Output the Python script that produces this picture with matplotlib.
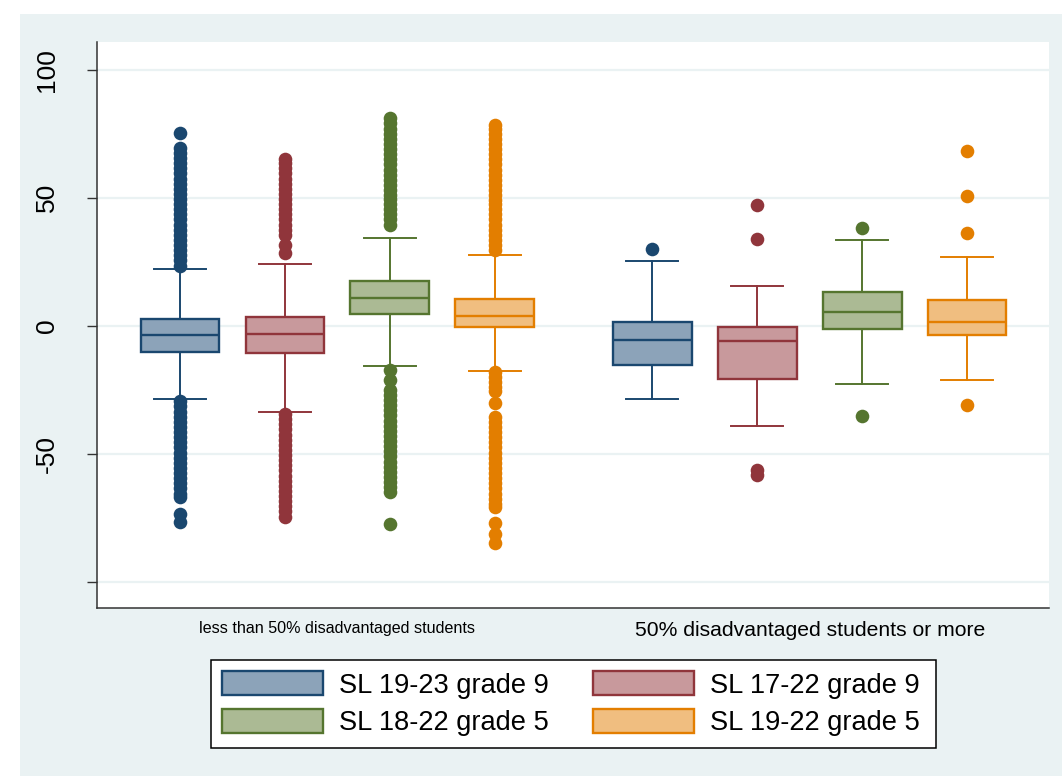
import matplotlib
matplotlib.use("Agg")
import matplotlib.pyplot as plt
from matplotlib.patches import Patch, Rectangle

plt.rcParams['font.family'] = ['Liberation Sans', 'DejaVu Sans']

# ---- data -------------------------------------------------------------
series = ["SL 19-23 grade 9", "SL 17-22 grade 9", "SL 18-22 grade 5", "SL 19-22 grade 5"]
groups = ["less than 50% disadvantaged students", "50% disadvantaged students or more"]

# group 1: less than 50% disadvantaged students (one value per series)
g1_whislo = [-28.6, -33.5, -15.8, -17.5]
g1_q1 = [-10.2, -10.7, 4.7, -0.6]
g1_med = [-3.7, -3.3, 11.0, 3.9]
g1_q3 = [2.6, 3.6, 17.6, 10.3]
g1_whishi = [22.1, 24.0, 34.4, 27.6]

# group 2: 50% disadvantaged students or more
g2_whislo = [-28.5, -39.1, -22.6, -21.1]
g2_q1 = [-15.4, -20.8, -1.3, -3.6]
g2_med = [-5.4, -6.0, 5.4, 1.6]
g2_q3 = [1.4, -0.6, 13.1, 10.1]
g2_whishi = [25.1, 15.6, 33.5, 26.7]

# outside values, group 1
g1_out_s1 = [75.3, 69.5, 67.5, 65.5, 63.5, 61.5, 59.5, 57.5, 55.5, 53.5, 51.5, 49.5,
             47.5, 45.5, 43.5, 41.5, 39.5, 37.5, 35.5, 33.5, 31.5, 29.5, 27.5, 25.5, 23.5,
             -29.5, -31.5, -33.5, -35.5, -37.5, -39.5, -41.5, -43.5, -45.5, -47.5, -49.5,
             -51.5, -53.5, -55.5, -57.5, -59.5, -61.5, -63.5, -65.5, -67.0, -73.5, -76.5]
g1_out_s2 = [65.2, 63.5, 61.5, 59.5, 57.5, 55.5, 53.5, 51.5, 49.5, 47.5, 45.5, 43.5,
             41.5, 39.5, 37.5, 35.5, 31.5, 28.5,
             -34.5, -36.5, -38.5, -40.5, -42.5, -44.5, -46.5, -48.5, -50.5, -52.5, -54.5,
             -56.5, -58.5, -60.5, -62.5, -64.5, -66.5, -68.5, -70.5, -72.5, -74.5]
g1_out_s3 = [81.0, 79.0, 77.0, 75.0, 73.0, 71.0, 69.0, 67.0, 65.0, 63.0, 61.0, 59.0,
             57.0, 55.0, 53.0, 51.0, 49.5, 47.5, 45.5, 43.5, 41.5, 39.3,
             -17.3, -21.2, -25.0, -27.0, -29.0, -31.0, -33.0, -35.0, -37.0, -39.0, -41.0,
             -43.0, -45.0, -47.0, -49.0, -51.0, -53.0, -55.0, -57.0, -59.0, -61.0, -63.0,
             -65.0, -77.5]
g1_out_s4 = [78.4, 77.0, 75.0, 73.0, 71.0, 69.0, 67.0, 65.0, 63.0, 61.0, 59.0, 57.0,
             55.0, 53.0, 51.0, 49.0, 47.5, 45.5, 43.5, 41.5, 39.5, 37.5, 35.5, 33.5,
             31.5, 29.5,
             -18.0, -20.0, -22.0, -24.0, -25.5, -30.3, -35.5, -37.5, -39.5, -41.5, -43.5,
             -45.5, -47.5, -49.5, -51.5, -53.5, -55.5, -57.5, -59.5, -61.5, -63.5, -65.5,
             -67.5, -69.5, -70.6, -76.9, -81.4, -84.9]

# outside values, group 2
g2_out_s1 = [30.1]
g2_out_s2 = [47.3, 33.7, -56.5, -58.2]
g2_out_s3 = [38.3, -35.2]
g2_out_s4 = [68.2, 50.7, 36.4, -31.0]

y_ticks = [-100, -50, 0, 50, 100]
y_tick_labels = ["", "-50", "0", "50", "100"]

# ---- styling ------------------------------------------------------------
edge_colors = ["#1a476f", "#90353b", "#55752f", "#e37e00"]
fill_colors = ["#8ca3b9", "#c8999c", "#abba94", "#f0be80"]
bg_color = "#eaf2f3"

W, H = 1062, 776
fig = plt.figure(figsize=(W / 100, H / 100), dpi=100)
fig.patch.set_facecolor("white")

# outer graph region
fig.add_artist(Rectangle((20 / W, 0), 1 - 20 / W, 1 - 14 / H,
                         transform=fig.transFigure, facecolor=bg_color,
                         edgecolor="none", zorder=-10))

ax = fig.add_axes([97 / W, 1 - 608 / H, (1049 - 97) / W, (608 - 42) / H])
ax.set_facecolor("white")

g1_pos = [1.0, 2.0, 3.0, 4.0]
g2_pos = [5.5, 6.5, 7.5, 8.5]

g1_out = [g1_out_s1, g1_out_s2, g1_out_s3, g1_out_s4]
g2_out = [g2_out_s1, g2_out_s2, g2_out_s3, g2_out_s4]

for i in range(len(series)):
    stats = [
        dict(whislo=g1_whislo[i], q1=g1_q1[i], med=g1_med[i], q3=g1_q3[i],
             whishi=g1_whishi[i], fliers=g1_out[i]),
        dict(whislo=g2_whislo[i], q1=g2_q1[i], med=g2_med[i], q3=g2_q3[i],
             whishi=g2_whishi[i], fliers=g2_out[i]),
    ]
    ec = edge_colors[i]
    ax.bxp(stats, positions=[g1_pos[i], g2_pos[i]], widths=0.75, capwidths=0.5,
           patch_artist=True, showfliers=True,
           boxprops=dict(facecolor=fill_colors[i], edgecolor=ec, linewidth=1.7),
           medianprops=dict(color=ec, linewidth=1.7),
           whiskerprops=dict(color=ec, linewidth=1.4),
           capprops=dict(color=ec, linewidth=1.4),
           flierprops=dict(marker="o", markersize=9.8, markerfacecolor=ec,
                           markeredgecolor=ec, markeredgewidth=0, linestyle="none"))

ax.set_xlim(0.21, 9.28)
ax.set_ylim(-110.2, 110.8)

ax.set_yticks(y_ticks)
ax.set_yticklabels(y_tick_labels, rotation=90, va="center", fontsize=19)
ax.tick_params(axis="y", length=7.2, width=1.0, color="#333333", pad=20)
ax.grid(axis="y", color=bg_color, linewidth=1.6, zorder=0)
ax.set_axisbelow(True)

ax.set_xticks([sum(g1_pos) / 4, sum(g2_pos) / 4])
ax.set_xticklabels(groups)
ax.tick_params(axis="x", length=0, pad=9)
xl = ax.get_xticklabels()
xl[0].set_fontsize(11.6)
xl[1].set_fontsize(15.2)

for s in ["top", "right"]:
    ax.spines[s].set_visible(False)
for s in ["left", "bottom"]:
    ax.spines[s].set_color("#333333")
    ax.spines[s].set_linewidth(1.1)

# legend frame
fig.add_artist(Rectangle((211 / W, 1 - 748 / H), (936 - 211) / W, (748 - 660) / H,
                         transform=fig.transFigure, facecolor="white",
                         edgecolor="black", linewidth=1.1, zorder=2))

handles = [Patch(facecolor=fill_colors[i], edgecolor=edge_colors[i], linewidth=1.7)
           for i in range(len(series))]
# column-major ordering so the first row holds series 1 and 2
order = [0, 2, 1, 3]
leg = fig.legend([handles[k] for k in order], [series[k] for k in order],
                 ncol=2, loc="upper left", bbox_to_anchor=(211 / W, 1 - 660 / H),
                 fontsize=19.6, frameon=False,
                 handlelength=3.71, handleheight=0.96,
                 handletextpad=0.58, columnspacing=1.62, labelspacing=0.38,
                 borderpad=0.42, borderaxespad=0)
leg.set_zorder(3)

fig.savefig("out.png", dpi=100, facecolor=fig.get_facecolor())
